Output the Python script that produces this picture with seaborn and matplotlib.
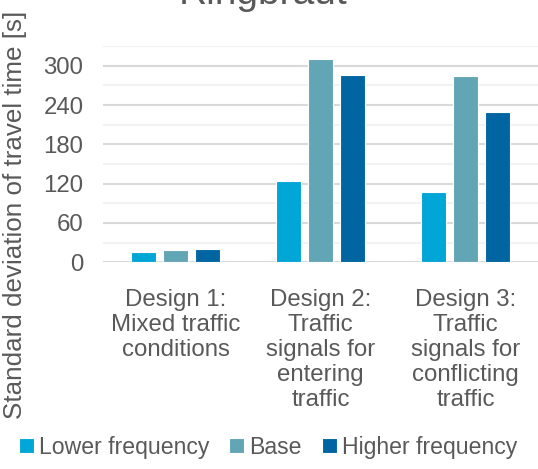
import matplotlib
matplotlib.use("Agg")
import matplotlib.pyplot as plt
from matplotlib.ticker import MultipleLocator
import seaborn as sns
import pandas as pd

# Standard deviation of travel time per design and signal frequency
designs = [
    "Design 1:\nMixed traffic\nconditions",
    "Design 2:\nTraffic\nsignals for\nentering\ntraffic",
    "Design 3:\nTraffic\nsignals for\nconflicting\ntraffic",
]
scenarios = ["Lower frequency", "Base", "Higher frequency"]
lower_freq = [15, 124, 107]
base = [19, 310, 285]
higher_freq = [20, 286, 229]
colors = ["#00A6D6", "#62A5B5", "#0065A0"]

rows = []
for scen, vals in zip(scenarios, [lower_freq, base, higher_freq]):
    for d, v in zip(designs, vals):
        rows.append({"design": d, "scenario": scen, "sd": v})
df = pd.DataFrame(rows)

sns.set_theme(style="white")
plt.rcParams["font.family"] = ["Liberation Sans", "DejaVu Sans"]
text_color = "#595959"

fig = plt.figure(figsize=(5.38, 4.69), dpi=100)
ax = fig.add_axes([0.1914, 0.4407, 0.8086, 0.4612])

sns.barplot(data=df, x="design", y="sd", hue="scenario", order=designs,
            hue_order=scenarios, palette=colors, width=0.663, gap=0.2,
            edgecolor="white", linewidth=0.8, saturation=1, ax=ax)

ax.set_ylim(0, 330)
ax.set_xlim(-0.5, 2.5)
ax.yaxis.set_major_locator(MultipleLocator(60))
ax.yaxis.set_minor_locator(MultipleLocator(30))
ax.grid(True, axis="y", which="major", color="#D9D9D9", linewidth=1.5)
ax.grid(True, axis="y", which="minor", color="#F2F2F2", linewidth=1.5)
ax.set_axisbelow(True)
for s in ax.spines.values():
    s.set_visible(False)
ax.tick_params(axis="both", which="both", length=0, labelsize=17.3,
               labelcolor=text_color)
ax.tick_params(axis="y", pad=14)
ax.tick_params(axis="x", pad=19)
for lbl in ax.get_xticklabels():
    lbl.set_linespacing(1.18)

ax.set_xlabel("")
ax.set_ylabel("Standard deviation of travel time [s]", fontsize=18.7,
              color=text_color, va="center")
ax.yaxis.set_label_coords(-0.2023, 0.219)

handles, labels = ax.get_legend_handles_labels()
ax.get_legend().remove()
fig.legend(handles, labels, loc="center", bbox_to_anchor=(268 / 538, 1 - 447 / 469),
           ncol=3, frameon=False, fontsize=16.6, labelcolor=text_color,
           handlelength=0.65, handleheight=0.65, handletextpad=0.22,
           columnspacing=0.87, borderpad=0, borderaxespad=0)

fig.text(0.49, 1 - 4 / 469, "Ringbraut", fontsize=28, color=text_color,
         ha="center", va="baseline")

fig.savefig("out.png", dpi=100)
